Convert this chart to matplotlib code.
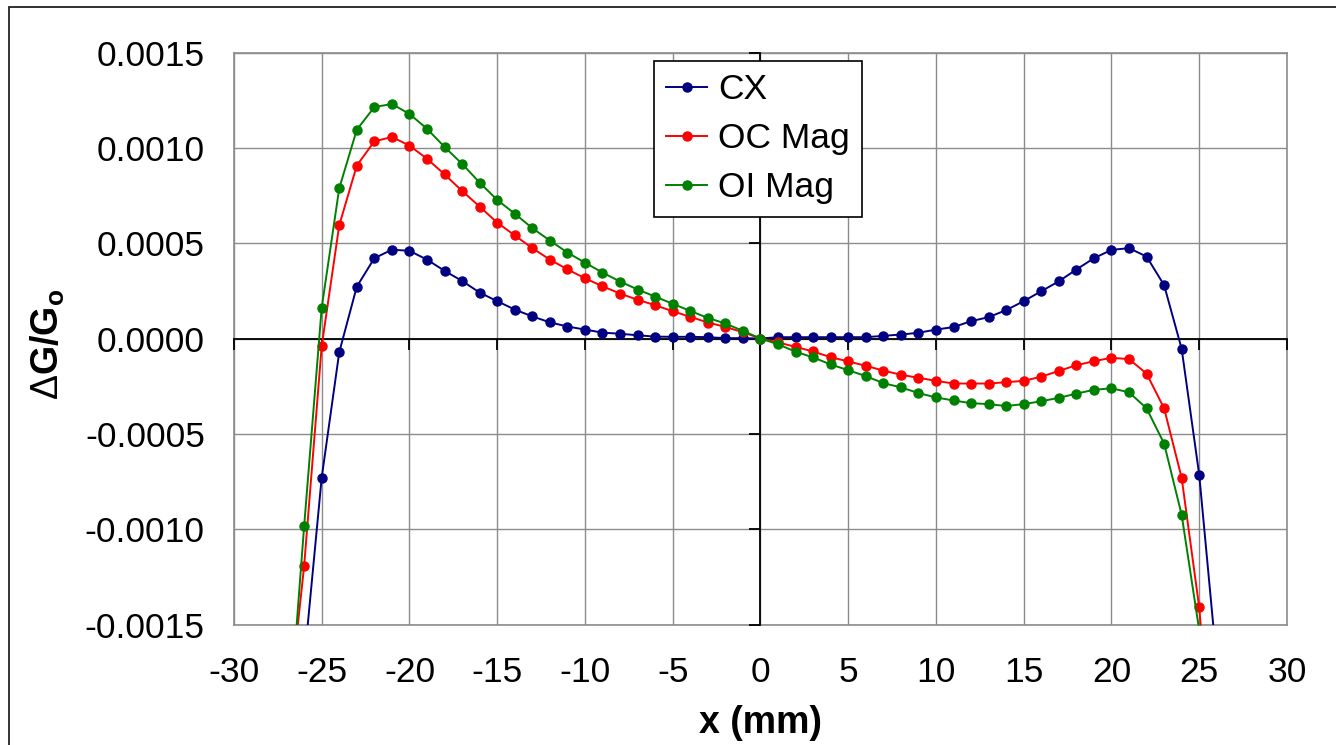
import matplotlib
matplotlib.use("Agg")
import matplotlib.pyplot as plt
from matplotlib.patches import Rectangle
from matplotlib.ticker import FormatStrFormatter, MultipleLocator

plt.rcParams["font.family"] = ["Liberation Sans", "DejaVu Sans"]
plt.rcParams["axes.unicode_minus"] = False
plt.rcParams["mathtext.fontset"] = "custom"
plt.rcParams["mathtext.rm"] = "Liberation Sans"
plt.rcParams["mathtext.bf"] = "Liberation Sans:bold"

# positions along x (mm)
X_CX = list(range(-26, 27))
X_MAG = list(range(-27, 27))

CX = [-0.0017, -0.00073, -0.000072, 0.000272, 0.000421, 0.000466, 0.00046, 0.000414,
      0.000355, 0.000302, 0.000241, 0.000196, 0.000152, 0.000116, 0.000085, 0.000063,
      0.000047, 0.000031, 0.000025, 0.000017, 0.00001, 0.000009, 0.000009, 0.000007,
      0.000002, 0.000002, 0.0,
      0.000007, 0.000007, 0.000007, 0.000007, 0.000007, 0.000007, 0.000014, 0.000021,
      0.00003, 0.000047, 0.00006, 0.000091, 0.000112, 0.000149, 0.000196, 0.000248,
      0.0003, 0.000362, 0.000421, 0.000465, 0.000474, 0.00043, 0.00028, -0.000054,
      -0.000715, -0.0017]

OC_MAG = [-0.00205, -0.001193, -0.00004, 0.000594, 0.000907, 0.001034, 0.001057, 0.001012,
          0.000943, 0.000861, 0.000774, 0.000692, 0.000608, 0.000541, 0.000474, 0.000414,
          0.000363, 0.000316, 0.000274, 0.000236, 0.000203, 0.000175, 0.000143, 0.000114,
          0.000084, 0.000061, 0.000033, 0.0,
          -0.00002, -0.000044, -0.000068, -0.000098, -0.00012, -0.000143, -0.000168,
          -0.00019, -0.000206, -0.000222, -0.000236, -0.000236, -0.000236, -0.000229,
          -0.000222, -0.0002, -0.00017, -0.00014, -0.000119, -0.000101, -0.000108,
          -0.000184, -0.000366, -0.000731, -0.00141, -0.0025]

OI_MAG = [-0.0022, -0.000984, 0.000161, 0.000788, 0.001095, 0.001214, 0.00123, 0.001178,
          0.0011, 0.001005, 0.000916, 0.000818, 0.000727, 0.000655, 0.000579, 0.000514,
          0.000451, 0.000398, 0.000346, 0.000299, 0.000257, 0.00022, 0.000182, 0.000145,
          0.000108, 0.000079, 0.00004, 0.0,
          -0.00003, -0.000069, -0.000099, -0.000136, -0.000166, -0.000197, -0.000234,
          -0.000256, -0.000286, -0.000309, -0.000325, -0.000339, -0.000344, -0.000354,
          -0.000344, -0.000329, -0.000311, -0.000289, -0.000269, -0.000261, -0.000282,
          -0.000366, -0.000551, -0.000925, -0.00153, -0.0026]

SERIES = [
    ("CX", X_CX, CX, "#000080"),
    ("OC Mag", X_MAG, OC_MAG, "#FF0000"),
    ("OI Mag", X_MAG, OI_MAG, "#008000"),
]

XLIM = (-30, 30)
YLIM = (-0.0015, 0.0015)
FS = 25.5

fig = plt.figure(figsize=(13.36, 7.45), dpi=100)
pos = [0.1751, 0.1617, 0.7882, 0.7678]

# background axes: grid, frame, tick labels
ax = fig.add_axes(pos)
ax.set_xlim(*XLIM)
ax.set_ylim(*YLIM)
ax.xaxis.set_major_locator(MultipleLocator(5))
ax.yaxis.set_major_locator(MultipleLocator(0.0005))
ax.yaxis.set_major_formatter(FormatStrFormatter("%.4f"))
ax.grid(True, color="#8c8c8c", linewidth=1.0)
for s in ax.spines.values():
    s.set_color("#8c8c8c")
    s.set_linewidth(1.2)
ax.tick_params(axis="x", length=0, pad=23, labelsize=FS)
ax.tick_params(axis="y", length=0, pad=21, labelsize=FS)
ax.set_xlabel("x (mm)", fontsize=27, fontweight="bold")
ax.set_ylabel(r"$\Delta\mathbf{G/G}_\mathbf{o}$", fontsize=27)
ax.xaxis.label.set_va("center")
ax.yaxis.label.set_va("center")
ax.xaxis.set_label_coords(0.5, -0.172)
ax.yaxis.set_label_coords(-0.177, 0.49)

# overlay axes: axis lines through zero and the data
ax0 = fig.add_axes(pos, sharex=ax, sharey=ax)
ax0.patch.set_visible(False)
ax0.spines["top"].set_visible(False)
ax0.spines["right"].set_visible(False)
ax0.spines["left"].set_position(("data", 0))
ax0.spines["bottom"].set_position(("data", 0))
ax0.spines["left"].set_linewidth(1.3)
ax0.spines["bottom"].set_linewidth(1.3)
ax0.tick_params(direction="out", length=8, width=1.3, labelbottom=False, labelleft=False)

for name, xs, ys, color in SERIES:
    ax0.plot(xs, ys, "-o", color=color, label=name, linewidth=1.4, markersize=6.5, zorder=3)

leg = ax0.legend(loc="upper left", bbox_to_anchor=(0.399, 0.985), borderaxespad=0,
                 fontsize=25.5, fancybox=False, framealpha=1, edgecolor="black",
                 handlelength=1.15, handletextpad=0.3, labelspacing=0.45, borderpad=0.35)
leg.get_frame().set_linewidth(1.2)

# outer chart border (only top/left fall inside the image)
top = 1 - 7 / 745
fig.patches.append(Rectangle((9 / 1336, -0.2), 1.3, top + 0.2, transform=fig.transFigure,
                             fill=False, edgecolor="#222222", linewidth=1.3))

fig.savefig("out.png", dpi=100)
